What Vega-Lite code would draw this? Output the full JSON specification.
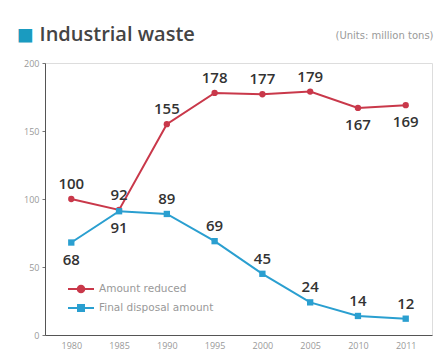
{
  "$schema": "https://vega.github.io/schema/vega-lite/v6.json",
  "autosize": "none",
  "width": 387,
  "height": 272,
  "padding": {"left": 45, "top": 63, "right": 3, "bottom": 15},
  "background": "white",
  "title": {
    "text": "Industrial waste",
    "anchor": "start",
    "dx": 23,
    "dy": 46,
    "offset": 22,
    "fontSize": 20,
    "fontWeight": 600,
    "font": "Open Sans",
    "color": "#444444"
  },
  "data": {
    "values": [
      {"year": "1980", "series": "Amount reduced", "value": 100},
      {"year": "1985", "series": "Amount reduced", "value": 92},
      {"year": "1990", "series": "Amount reduced", "value": 155},
      {"year": "1995", "series": "Amount reduced", "value": 178},
      {"year": "2000", "series": "Amount reduced", "value": 177},
      {"year": "2005", "series": "Amount reduced", "value": 179},
      {"year": "2010", "series": "Amount reduced", "value": 167},
      {"year": "2011", "series": "Amount reduced", "value": 169},
      {"year": "1980", "series": "Final disposal amount", "value": 68},
      {"year": "1985", "series": "Final disposal amount", "value": 91},
      {"year": "1990", "series": "Final disposal amount", "value": 89},
      {"year": "1995", "series": "Final disposal amount", "value": 69},
      {"year": "2000", "series": "Final disposal amount", "value": 45},
      {"year": "2005", "series": "Final disposal amount", "value": 24},
      {"year": "2010", "series": "Final disposal amount", "value": 14},
      {"year": "2011", "series": "Final disposal amount", "value": 12}
    ]
  },
  "encoding": {
    "x": {
      "field": "year", "type": "ordinal",
      "scale": {"type": "point", "padding": 0.55},
      "axis": {
        "title": "■", "titleColor": "#1a9bc0", "titleFontSize": 28, "titleFontWeight": "normal",
        "titleX": -20, "titleY": -300, "titleAlign": "center", "titleBaseline": "middle",
        "labelAngle": 0, "labelFontSize": 9, "labelColor": "#999999", "labelFont": "Open Sans",
        "ticks": false, "labelPadding": 6, "domainColor": "#555555"
      }
    },
    "y": {
      "field": "value", "type": "quantitative",
      "scale": {"domain": [0, 200], "nice": false},
      "axis": {
        "values": [0, 50, 100, 150, 200],
        "title": "(Units: million tons)", "titleColor": "#999999", "titleFontSize": 10, "titleFontWeight": "normal",
        "titleAngle": 0, "titleX": 388, "titleY": -28, "titleAlign": "right", "titleBaseline": "middle", "titleFont": "DejaVu Sans",
        "labelFontSize": 9, "labelColor": "#999999", "labelFont": "Open Sans",
        "tickSize": 3, "tickColor": "#777777", "labelPadding": 3, "grid": false, "domainColor": "#555555"
      }
    },
    "color": {
      "field": "series", "type": "nominal",
      "scale": {"domain": ["Amount reduced", "Final disposal amount"], "range": ["#c9384a", "#2a9fd0"]},
      "legend": {
        "title": null, "orient": "none", "legendX": 25, "legendY": 215,
        "labelFontSize": 10.5, "labelColor": "#999999", "labelFont": "DejaVu Sans",
        "symbolSize": 400, "rowPadding": 0, "symbolStrokeWidth": 2, "labelOffset": 7,
        "symbolType": "M-1.3,0H1.3M-0.33,0A0.33,0.33 0 1 1 0.33,0A0.33,0.33 0 1 1 -0.33,0Z",
        "encode": {
          "symbols": {
            "update": {
              "shape": {"signal": "datum.value == 'Amount reduced' ? 'M-1.3,0H1.3M-0.33,0A0.33,0.33 0 1 1 0.33,0A0.33,0.33 0 1 1 -0.33,0Z' : 'M-1.3,0H1.3M-0.3,-0.3H0.3V0.3H-0.3Z'"},
              "stroke": {"signal": "scale('color', datum.value)"},
              "strokeWidth": {"value": 2}
            }
          }
        }
      }
    }
  },
  "layer": [
    {
      "mark": {"type": "line", "strokeWidth": 2}
    },
    {
      "transform": [{"filter": "datum.series == 'Amount reduced'"}],
      "mark": {"type": "point", "filled": true, "size": 40, "opacity": 1, "shape": "circle"}
    },
    {
      "transform": [{"filter": "datum.series == 'Final disposal amount'"}],
      "mark": {"type": "point", "filled": true, "size": 40, "opacity": 1, "shape": "square"}
    },
    {
      "transform": [
        {"filter": "!((datum.series == 'Amount reduced' && (datum.year == '2010' || datum.year == '2011')) || (datum.series == 'Final disposal amount' && (datum.year == '1980' || datum.year == '1985')))"}
      ],
      "mark": {"type": "text", "dy": -15, "fontSize": 15, "fontWeight": 600, "font": "Open Sans", "color": "#333333"},
      "encoding": {"text": {"field": "value", "type": "quantitative"}, "color": {"value": "#333333"}}
    },
    {
      "transform": [
        {"filter": "(datum.series == 'Amount reduced' && (datum.year == '2010' || datum.year == '2011')) || (datum.series == 'Final disposal amount' && (datum.year == '1980' || datum.year == '1985'))"}
      ],
      "mark": {"type": "text", "dy": 17, "fontSize": 15, "fontWeight": 600, "font": "Open Sans", "color": "#333333"},
      "encoding": {"text": {"field": "value", "type": "quantitative"}, "color": {"value": "#333333"}}
    }
  ]
}
